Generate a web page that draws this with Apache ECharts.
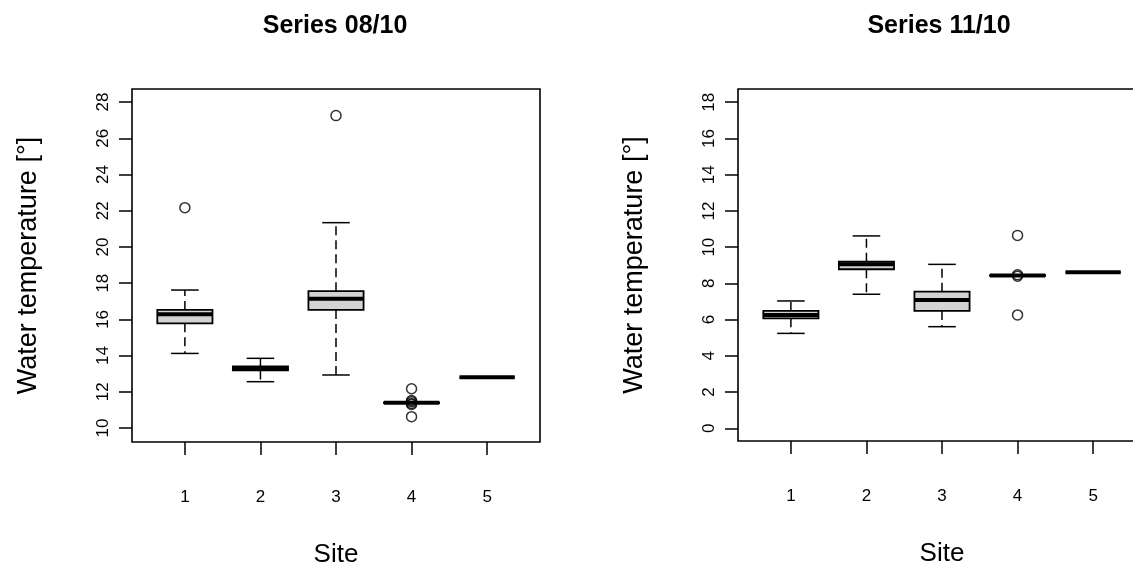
<!DOCTYPE html>
<html>
<head>
<meta charset="utf-8">
<script src="https://cdn.jsdelivr.net/npm/echarts@6/dist/echarts.min.js"></script>
<style>
  html, body { margin: 0; padding: 0; background: #fff; }
  #chart { width: 1133px; height: 569px; }
</style>
</head>
<body>
<div id="chart"></div>
<script>
  // sites on the x axis
  const sites = [1, 2, 3, 4, 5]
  const titles = ['Series 08/10', 'Series 11/10']
  const leftTicks = [10, 12, 14, 16, 18, 20, 22, 24, 26, 28]
  const rightTicks = [0, 2, 4, 6, 8, 10, 12, 14, 16, 18]

  // [lower whisker, Q1, median, Q3, upper whisker] per site
  const augBoxes = [
    [14.12, 15.78, 16.29, 16.52, 17.62],
    [12.56, 13.18, 13.28, 13.40, 13.85],
    [12.93, 16.52, 17.14, 17.56, 21.34],
    [11.40, 11.38, 11.40, 11.42, 11.40],
    [12.80, 12.80, 12.80, 12.80, 12.80]
  ]
  const augOutliers = [[1, 22.17], [3, 27.25], [4, 12.17], [4, 11.52], [4, 11.45], [4, 11.36], [4, 11.30], [4, 10.63]]

  const novBoxes = [
    [5.24, 6.07, 6.26, 6.48, 7.03],
    [7.40, 8.78, 9.05, 9.20, 10.62],
    [5.61, 6.48, 7.08, 7.54, 9.05],
    [8.44, 8.42, 8.44, 8.46, 8.44],
    [8.61, 8.61, 8.61, 8.61, 8.61]
  ]
  const novOutliers = [[4, 10.65], [4, 8.48], [4, 8.40], [4, 6.26]]

  const font = "'Liberation Sans', Arial, sans-serif"

  // draws one R style box: grey box, thick median, dashed whiskers
  function renderBox(params, api) {
    const xv = api.value(0)
    const x = api.coord([xv, 0])[0]
    const y = (i) => api.coord([xv, api.value(i)])[1]
    const yLo = y(1), yQ1 = y(2), yMed = y(3), yQ3 = y(4), yHi = y(5)
    const hw = api.size([0.73, 0])[0] / 2
    const cw = hw / 2
    const black = '#000'
    return {
      type: 'group',
      children: [
        { type: 'line', shape: { x1: x, y1: yQ3, x2: x, y2: yHi },
          style: { stroke: black, lineWidth: 1.5, lineDash: [9, 5] } },
        { type: 'line', shape: { x1: x, y1: yQ1, x2: x, y2: yLo },
          style: { stroke: black, lineWidth: 1.5, lineDash: [9, 5] } },
        { type: 'line', shape: { x1: x - cw, y1: yHi, x2: x + cw, y2: yHi },
          style: { stroke: black, lineWidth: 1.5 } },
        { type: 'line', shape: { x1: x - cw, y1: yLo, x2: x + cw, y2: yLo },
          style: { stroke: black, lineWidth: 1.5 } },
        { type: 'rect', shape: { x: x - hw, y: yQ3, width: 2 * hw, height: yQ1 - yQ3 },
          style: { fill: '#d3d3d3', stroke: black, lineWidth: 1.8 } },
        { type: 'line', shape: { x1: x - hw, y1: yMed, x2: x + hw, y2: yMed },
          style: { stroke: black, lineWidth: 4 } }
      ]
    }
  }

  function xAxis(gridIndex) {
    return {
      type: 'value', gridIndex, min: 0.3, max: 5.7,
      name: 'Site', nameLocation: 'middle', nameGap: 100,
      nameTextStyle: { fontFamily: font, fontSize: 26, color: '#000' },
      axisLine: { show: false, onZero: false },
      axisTick: { show: true, length: 13, customValues: sites, lineStyle: { color: '#000', width: 1.5 } },
      axisLabel: { customValues: sites, margin: 47, fontFamily: font, fontSize: 17, color: '#000' },
      splitLine: { show: false }
    }
  }

  function yAxis(gridIndex, min, max, ticks) {
    return {
      type: 'value', gridIndex, min, max,
      name: 'Water temperature [°]', nameLocation: 'middle', nameRotate: 90, nameGap: 90,
      nameTextStyle: { fontFamily: font, fontSize: 27, color: '#000' },
      axisLine: { show: false, onZero: false },
      axisTick: { show: true, length: 13, customValues: ticks, lineStyle: { color: '#000', width: 1.5 } },
      axisLabel: { customValues: ticks, rotate: 90, margin: 20, fontFamily: font, fontSize: 17, color: '#000' },
      splitLine: { show: false }
    }
  }

  function boxData(boxes) {
    return boxes.map((b, i) => [sites[i]].concat(b))
  }

  const chart = echarts.init(document.getElementById('chart'))
  chart.setOption({
    animation: false,
    backgroundColor: '#fff',
    title: [
      { text: titles[0], left: 335, top: 14, textAlign: 'center', padding: 0,
        textStyle: { fontFamily: font, fontSize: 25, fontWeight: 'bold', color: '#000' } },
      { text: titles[1], left: 939, top: 14, textAlign: 'center', padding: 0,
        textStyle: { fontFamily: font, fontSize: 25, fontWeight: 'bold', color: '#000' } }
    ],
    grid: [
      { left: 132, top: 89, width: 408, height: 353, show: true, borderColor: '#000', borderWidth: 1.6,
        containLabel: false, outerBoundsMode: 'none' },
      { left: 738, top: 89, width: 408, height: 352, show: true, borderColor: '#000', borderWidth: 1.6,
        containLabel: false, outerBoundsMode: 'none' }
    ],
    xAxis: [xAxis(0), xAxis(1)],
    yAxis: [yAxis(0, 9.23, 28.72, leftTicks), yAxis(1, -0.7, 18.73, rightTicks)],
    series: [
      { type: 'custom', xAxisIndex: 0, yAxisIndex: 0, renderItem: renderBox,
        encode: { x: 0, y: [1, 2, 3, 4, 5] }, data: boxData(augBoxes) },
      { type: 'custom', xAxisIndex: 1, yAxisIndex: 1, renderItem: renderBox,
        encode: { x: 0, y: [1, 2, 3, 4, 5] }, data: boxData(novBoxes) },
      { type: 'scatter', xAxisIndex: 0, yAxisIndex: 0, symbol: 'circle', symbolSize: 10, z: 5,
        itemStyle: { color: 'rgba(0,0,0,0)', borderColor: '#000', borderWidth: 1.5 }, data: augOutliers },
      { type: 'scatter', xAxisIndex: 1, yAxisIndex: 1, symbol: 'circle', symbolSize: 10, z: 5,
        itemStyle: { color: 'rgba(0,0,0,0)', borderColor: '#000', borderWidth: 1.5 }, data: novOutliers }
    ]
  })
</script>
</body>
</html>
